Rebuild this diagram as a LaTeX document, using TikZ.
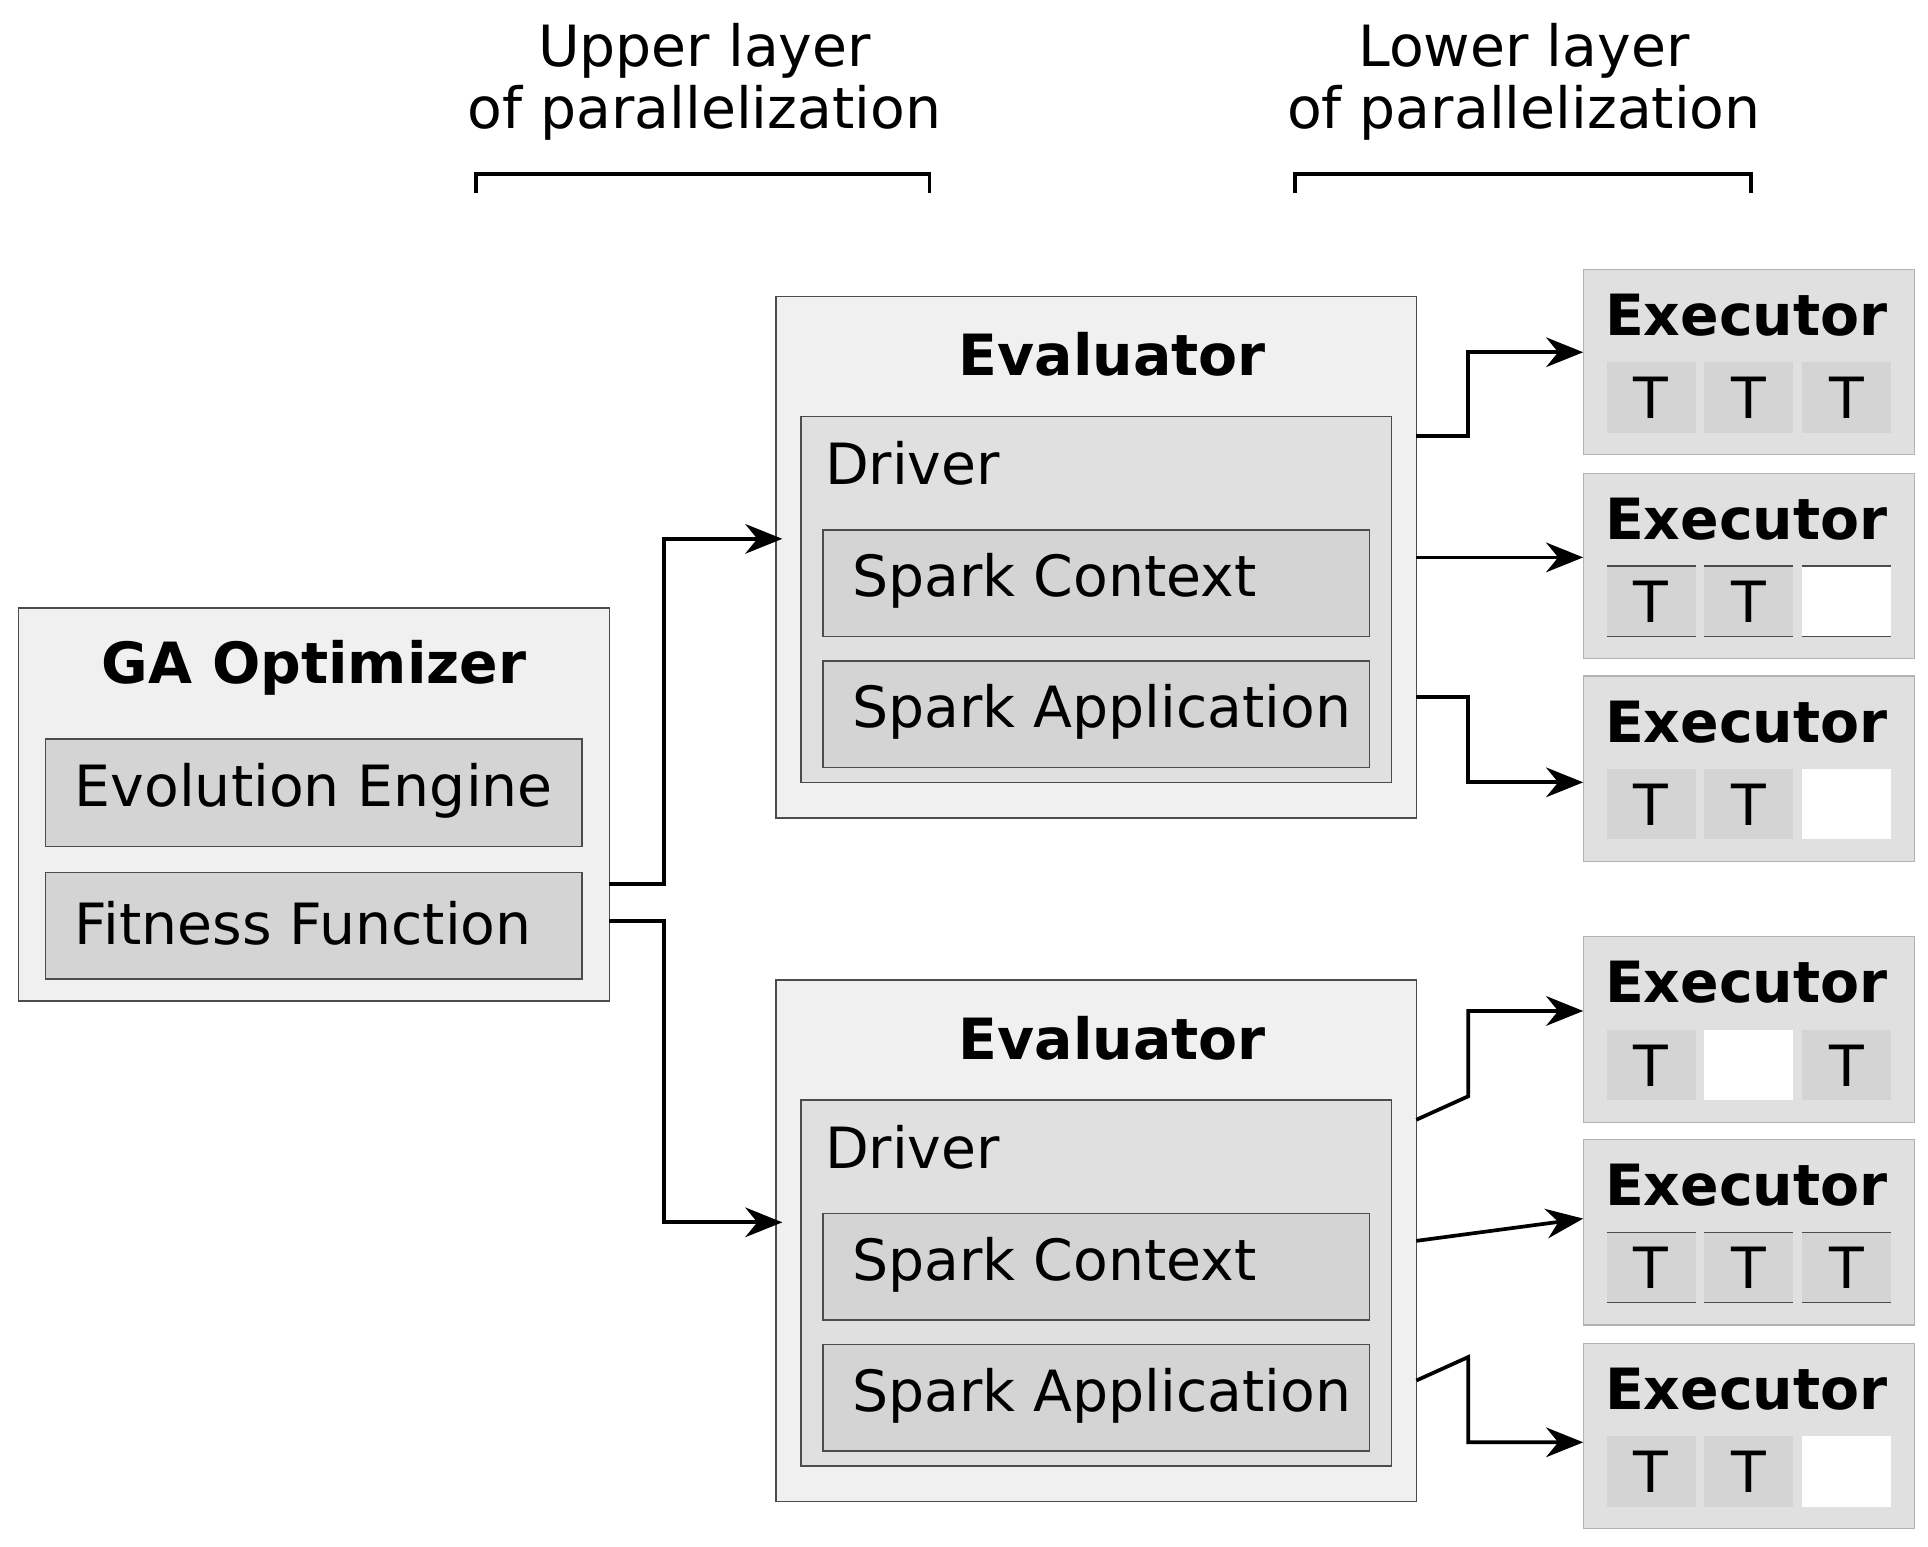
\documentclass[tikz,border=0pt]{standalone}
\usepackage{fontspec}
\setmainfont{DejaVu Sans}
\usetikzlibrary{arrows.meta}
\definecolor{outer}{HTML}{F0F0F0}
\definecolor{mid}{HTML}{E0E0E0}
\definecolor{inner}{HTML}{D4D4D4}
\begin{document}
\begin{tikzpicture}[x=1pt,y=-1pt,
  box/.style={draw=black!70,line width=1.2pt},
  ob/.style={box,fill=outer},
  mb/.style={box,fill=mid},
  ib/.style={box,fill=inner},
  big/.style={font=\fontsize{46}{50}\selectfont},
  bigb/.style={font=\fontsize{46}{50}\selectfont\bfseries},
  arr/.style={line width=3pt,-{Stealth[length=30pt,width=24pt]}},
  exb/.style={fill=mid,draw=black!30,line width=1pt},
  cell/.style={fill=inner},
  ecell/.style={fill=white}]
\useasboundingbox (0,0) rectangle (1560,1251);
% headers
\node[big,align=center] (h1) at (570,66) {Upper layer\\of parallelization};
\node[big,align=center] (h2) at (1233,66) {Lower layer\\of parallelization};
\draw[line width=3pt] (385,156) -- (385,141) -- (752,141) -- (752,156);
\draw[line width=3pt] (1048,156) -- (1048,141) -- (1417,141) -- (1417,156);
% GA
\draw[ob] (15,492) rectangle (493,810);
\node[bigb] (ga) at (254,540) {GA Optimizer};
\draw[ib] (37,598) rectangle (471,685);
\node[big,anchor=west] (ee) at (57,640) {Evolution Engine};
\draw[ib] (37,706) rectangle (471,792);
\node[big,anchor=west] (ff) at (57,747) {Fitness Function};
\coordinate (ga1) at (493,715);
\coordinate (ga2) at (493,745);
% evaluators
\foreach \o/\n in {0/1,553/2}{
 \begin{scope}[yshift=-\o pt]
 \draw[ob] (628,240) rectangle (1146,662);
 \node[bigb] (ev\n) at (900,287) {Evaluator};
 \draw[mb] (648,337) rectangle (1126,633);
 \node[big,anchor=west] (dr\n) at (664,375) {Driver};
 \draw[ib] (666,429) rectangle (1108,515);
 \node[big,anchor=west] (sc\n) at (686,470) {Spark Context};
 \draw[ib] (666,535) rectangle (1108,621);
 \node[big,anchor=west] (sa\n) at (686,576) {Spark Application};
 \coordinate (in\n) at (633,436);
 \coordinate (oa\n) at (1146,353);
 \coordinate (ob\n) at (1146,451);
 \coordinate (oc\n) at (1146,564);
 \end{scope}}
% executors
\foreach \y/\a/\b/\c/\l/\n in {218/cell/cell/cell/0/1,383/cell/cell/ecell/1/2,547/cell/cell/ecell/0/3,758/cell/ecell/cell/0/4,922/cell/cell/cell/1/5,1087/cell/cell/ecell/0/6}{
 \begin{scope}[yshift=-\y pt]
 \fill[exb] (1281,0) rectangle (1549,150);
 \node[bigb] (ex\n) at (1413,37) {Executor};
 \fill[\a] (1300,75) rectangle (1372,132);
 \fill[\b] (1379,75) rectangle (1451,132);
 \fill[\c] (1458,75) rectangle (1530,132);
 \ifnum\l=1
  \foreach \xa in {1300,1379,1458}{\draw[black!70,line width=1pt] (\xa,75)--++(72,0) (\xa,132)--++(72,0);}
 \fi
 \ifx\a\empty\else\ifnum0=0 \fi\fi
 \coordinate (ei\n) at (1281,67);
 \end{scope}}
\foreach \y/\t in {218/TTT,383/TTx,547/TTx,758/TxT,922/TTT,1087/TTx}{}
\begin{scope}[big]
\foreach \yy in {218,383,547,922,1087}{
 \node at (1336,\yy+104) {T}; \node at (1415,\yy+104) {T};}
\foreach \yy in {218,758,922}{ \node at (1494,\yy+104) {T};}
\node at (1336,862) {T};
\end{scope}
% arrows
\draw[arr] (ga1) -- (537,715) |- (in1);
\draw[arr] (ga2) -- (537,745) |- (in2);
\draw[arr] (oa1) -- (1188,353) |- (1281,285);
\draw[arr] (ob1) -- (1281,451);
\draw[arr] (oc1) -- (1188,564) |- (1281,633);
\draw[arr] (oa2) -- (1188,887) |- (1281,818);
\draw[arr] (ob2) -- (1281,986);
\draw[arr] (oc2) -- (1188,1098) |- (1281,1167);
\end{tikzpicture}
\end{document}
